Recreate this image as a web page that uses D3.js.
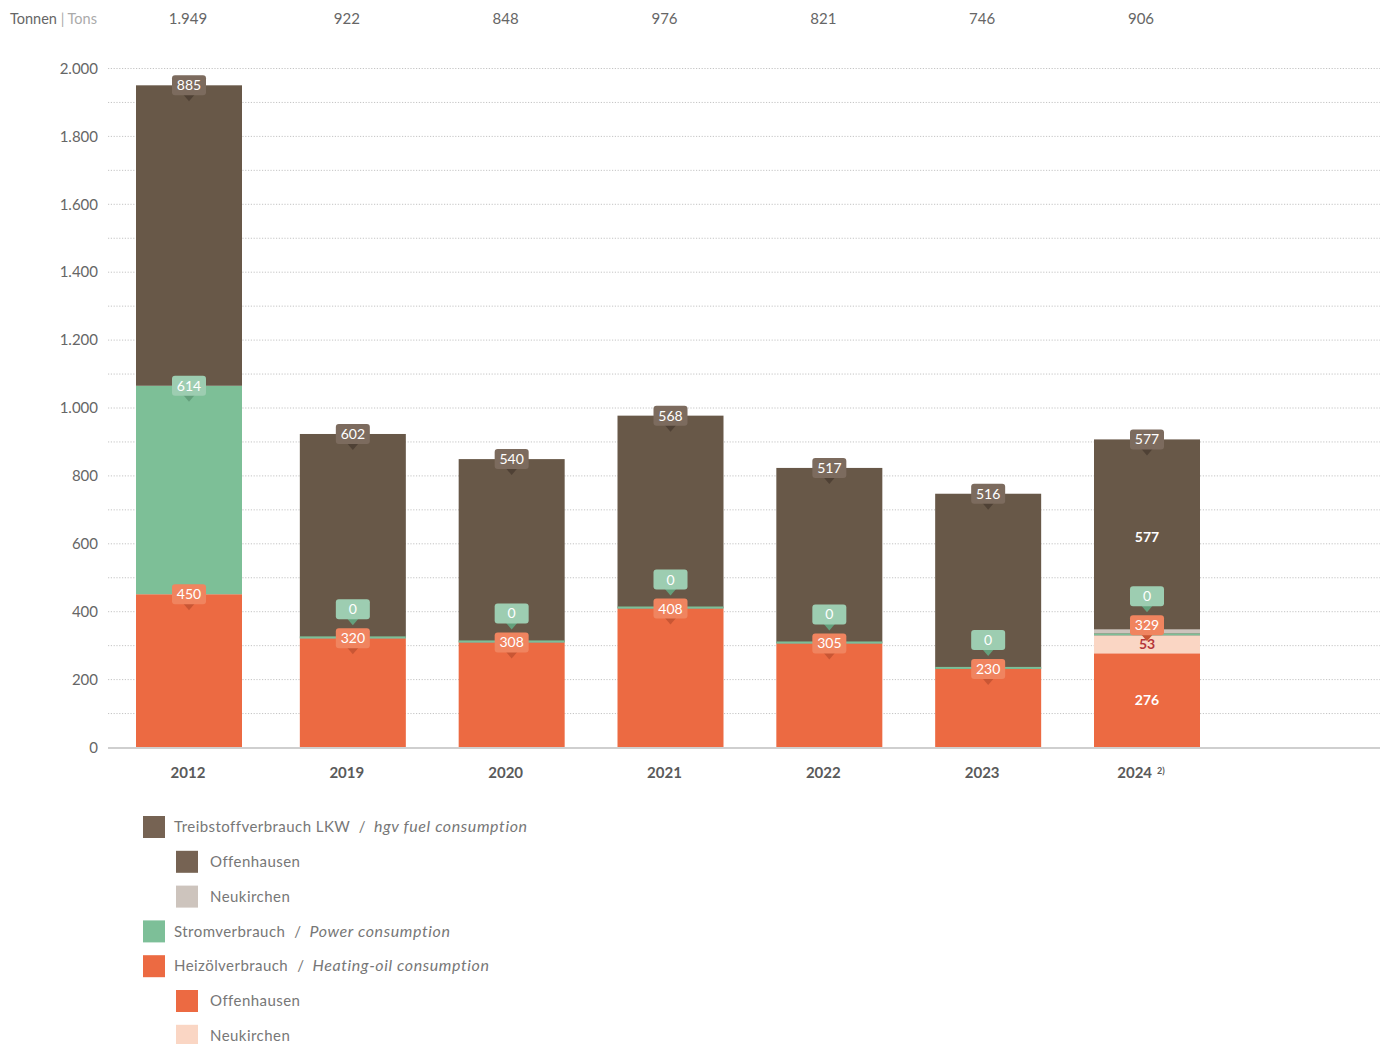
<!DOCTYPE html>
<html>
<head>
<meta charset="utf-8">
<script src="https://cdn.jsdelivr.net/npm/d3@7/dist/d3.min.js"></script>
<style>
  html, body { margin: 0; padding: 0; background: #fff; }
  svg { display: block; font-family: Lato, "Open Sans", sans-serif; }
</style>
</head>
<body>
<svg id="chart" width="1380" height="1044"></svg>
<script>
// Consumption in tonnes per year
const years = ["2012", "2019", "2020", "2021", "2022", "2023", "2024"];
const yearNotes = ["", "", "", "", "", "", "2)"];
const totals = [1949, 922, 848, 976, 821, 746, 906];

const heatingOffenhausen = [450, 320, 308, 408, 305, 230, 276];
const heatingNeukirchen  = [null, null, null, null, null, null, 53];
const power              = [614, 0, 0, 0, 0, 0, 0];
const fuelNeukirchen     = [null, null, null, null, null, null, 0];
const fuelOffenhausen    = [885, 602, 540, 568, 517, 516, 577];

const yTicks = [0, 200, 400, 600, 800, 1000, 1200, 1400, 1600, 1800, 2000];
const yGrid  = [100, 200, 300, 400, 500, 600, 700, 800, 900, 1000, 1100, 1200, 1300, 1400, 1500, 1600, 1700, 1800, 1900, 2000];

const legendRows = [
  { de: "Treibstoffverbrauch LKW", en: "hgv fuel consumption", color: "#766353", sub: false },
  { de: "Offenhausen", en: null, color: "#766353", sub: true },
  { de: "Neukirchen", en: null, color: "#cdc4bd", sub: true },
  { de: "Stromverbrauch", en: "Power consumption", color: "#7dbf98", sub: false },
  { de: "Heizölverbrauch", en: "Heating-oil consumption", color: "#ec6a42", sub: false },
  { de: "Offenhausen", en: null, color: "#ec6a42", sub: true },
  { de: "Neukirchen", en: null, color: "#fad6c4", sub: true }
];

// Stack keys, bottom to top
const series = [
  { key: "heatingOff", values: heatingOffenhausen, color: "#ec6a42", label: "#ffffff" },
  { key: "heatingNeu", values: heatingNeukirchen,  color: "#fad6c4", label: "#b5363a" },
  { key: "power",      values: power,              color: "#7dbf97", label: "#ffffff" },
  { key: "fuelNeu",    values: fuelNeukirchen,     color: "#cdc4bd", label: "#ffffff" },
  { key: "fuelOff",    values: fuelOffenhausen,    color: "#685848", label: "#ffffff" }
];

// Callout tags on top of each consumption group
const tagGroups = [
  { keys: ["heatingOff", "heatingNeu"], box: "#f0845f", tip: "#c95634" },
  { keys: ["power"],                     box: "#9dcdb1", tip: "#64a07c" },
  { keys: ["fuelNeu", "fuelOff"],        box: "#7c6b5e", tip: "#4f4135" }
];

const de = d3.formatLocale({ decimal: ",", thousands: ".", grouping: [3], currency: ["", " €"] });
const fmt = de.format(",d");

const svg = d3.select("#chart");
const y = d3.scaleLinear().domain([0, 2000]).range([747, 68]);
const xLabel = d3.scalePoint().domain(years).range([188, 1141]);
const barW = 106;
const barCenter = (yr, i) => xLabel(yr) + (i === 0 ? 1 : 6);

// Grid
svg.append("g").selectAll("line").data(yGrid).join("line")
  .attr("x1", 108).attr("x2", 1380)
  .attr("y1", d => y(d) + 0.5).attr("y2", d => y(d) + 0.5)
  .attr("stroke", "#c4c4c4").attr("stroke-width", 1)
  .attr("stroke-dasharray", "1.2,1.6");

// Y axis
const yAxis = d3.axisLeft(y).tickValues(yTicks).tickSize(0).tickPadding(0).tickFormat(fmt);
const yg = svg.append("g").attr("transform", "translate(98,0)").call(yAxis);
yg.select(".domain").remove();
yg.selectAll("text").attr("font-size", 15).attr("fill", "#666").attr("font-family", "Lato, sans-serif")
  .attr("dy", "0.35em");

// Stack
const rows = years.map((yr, i) => {
  const r = { year: yr, i };
  series.forEach(s => { r[s.key] = s.values[i] == null ? 0 : s.values[i]; });
  return r;
});
const stacked = d3.stack().keys(series.map(s => s.key))(rows);

const bars = svg.append("g");
stacked.forEach((layer, li) => {
  const s = series[li];
  bars.append("g").selectAll("rect").data(layer).join("rect")
    .attr("x", d => barCenter(d.data.year, d.data.i) - barW / 2)
    .attr("width", barW)
    .attr("y", d => y(d[1]))
    .attr("height", d => y(d[0]) - y(d[1]))
    .attr("fill", s.color);
});

// Zero-valued but reported segments shown as thin strips above their boundary
years.forEach((yr, i) => {
  let offset = 0;
  series.forEach((s, li) => {
    const v = s.values[i];
    if (v === 0) {
      const base = y(stacked[li][i][0]);
      const h = s.key === "power" ? 2 : 4;
      bars.append("rect")
        .attr("x", barCenter(yr, i) - barW / 2).attr("width", barW)
        .attr("y", base - offset - h).attr("height", h)
        .attr("fill", s.color);
      offset += h;
    }
  });
});

// Baseline
svg.append("line").attr("x1", 108).attr("x2", 1380).attr("y1", 748).attr("y2", 748)
  .attr("stroke", "#cfcfcf").attr("stroke-width", 2);

// Inner labels where the site breakdown is reported
const keyIndex = Object.fromEntries(series.map((s, i) => [s.key, i]));
const hasBreakdown = i => heatingNeukirchen[i] != null;
years.forEach((yr, i) => {
  if (!hasBreakdown(i)) return;
  ["heatingOff", "heatingNeu", "fuelOff"].forEach(k => {
    const li = keyIndex[k];
    const d = stacked[li][i];
    const v = series[li].values[i];
    if (!v) return;
    svg.append("text")
      .attr("x", barCenter(yr, i)).attr("y", (y(d[0]) + y(d[1])) / 2)
      .attr("text-anchor", "middle").attr("dy", "0.36em")
      .attr("font-size", 14).attr("font-weight", 700)
      .attr("fill", series[li].label).text(fmt(v));
  });
});

// Tags
const tags = svg.append("g");
years.forEach((yr, i) => {
  let prev = null;
  tagGroups.forEach((g, gi) => {
    const lis = g.keys.map(k => keyIndex[k]);
    const present = g.keys.some(k => series[keyIndex[k]].values[i] != null);
    if (!present) return;
    const value = d3.sum(g.keys, k => series[keyIndex[k]].values[i] || 0);
    const top = d3.max(lis, li => stacked[li][i][1]);
    let yc = y(top);
    // lift the heating tag clear of the inner label below it
    if (gi === 0 && hasBreakdown(i)) yc -= 10;
    if (prev != null && yc > prev - 29) yc = prev - 29;
    prev = yc;
    const cx = barCenter(yr, i);
    const t = tags.append("g").attr("transform", `translate(${cx},${yc})`);
    t.append("path").attr("d", "M-6,9 L6,9 L0,16 Z").attr("fill", g.tip);
    t.append("rect").attr("x", -17).attr("y", -10).attr("width", 34).attr("height", 20)
      .attr("rx", 3).attr("fill", g.box);
    t.append("text").attr("text-anchor", "middle").attr("dy", "0.36em")
      .attr("font-size", 14).attr("fill", "#fff").text(fmt(value));
  });
});

// Year labels
const xg = svg.append("g");
years.forEach((yr, i) => {
  const t = xg.append("text").attr("x", xLabel(yr)).attr("y", 773)
    .attr("text-anchor", "middle").attr("dy", "0.35em")
    .attr("font-size", 15).attr("font-weight", 700).attr("fill", "#5a5a5a");
  t.append("tspan").text(yr);
  if (yearNotes[i]) {
    t.append("tspan").attr("dx", 5).attr("dy", "-0.5em").attr("font-size", 9).text(yearNotes[i]);
  }
});

// Header: unit and totals
const head = svg.append("text").attr("x", 10).attr("y", 19).attr("dy", "0.35em").attr("font-size", 14.5);
head.append("tspan").attr("fill", "#666").text("Tonnen");
head.append("tspan").attr("fill", "#aaa").text(" | ");
head.append("tspan").attr("fill", "#aaa").text("Tons");
svg.append("g").selectAll("text").data(years).join("text")
  .attr("x", d => xLabel(d)).attr("y", 19).attr("dy", "0.35em")
  .attr("text-anchor", "middle").attr("font-size", 15).attr("fill", "#666")
  .text((d, i) => fmt(totals[i]));

// Legend
const lg = svg.append("g");
legendRows.forEach((r, i) => {
  const cy = 827 + i * 34.8;
  const sx = r.sub ? 176 : 143;
  lg.append("rect").attr("x", sx).attr("y", cy - 11).attr("width", 22).attr("height", 22).attr("fill", r.color);
  const t = lg.append("text").attr("x", sx + 31 + (r.sub ? 3 : 0)).attr("y", cy).attr("dy", "0.35em")
    .attr("font-size", 15).attr("fill", "#777").style("letter-spacing", "0.45px");
  t.append("tspan").text(r.de);
  if (r.en) {
    t.append("tspan").attr("dx", 9).text("/");
    t.append("tspan").attr("dx", 8).attr("font-style", "italic").attr("font-size", 16)
      .style("letter-spacing", "0.6px").text(r.en);
  }
});
</script>
</body>
</html>
